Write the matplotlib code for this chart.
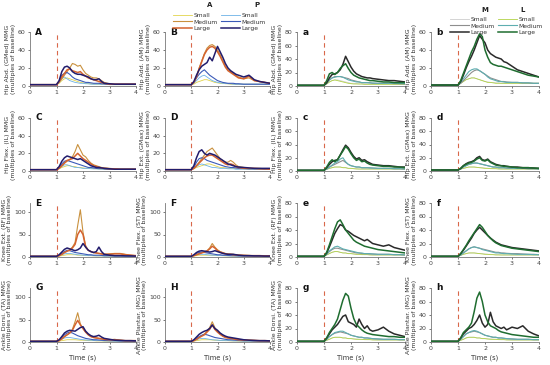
import matplotlib
matplotlib.use("Agg")
import matplotlib.pyplot as plt

# time grid (s)
T = [0, 1.0, 1.1, 1.2, 1.3, 1.4, 1.5, 1.6, 1.7, 1.8, 1.9, 2.0, 2.1, 2.2, 2.3,
     2.4, 2.5, 2.6, 2.7, 2.8, 3.0, 3.2, 3.4, 3.6, 3.8, 4.0]

sizes = ["Small", "Medium", "Large"]

# ---- Left block: A (anterior) and P (posterior) series ----
A_panelA = [
    [1.5,1.5,3,6,8,9,8,7,6,5,4,3.5,3,2.5,2.5,2,2,2,2,2,1.5,1.5,1.5,1.5,1.5,1.5],
    [1.5,1.5,4,8,12,16,20,25,24,22,23,18,14,12,10,9,9,8,6,4,2.5,2,2,2,2,2],
    [1.5,1.5,5,10,14,18,19,17,16,15,16,13,11,9,8,7,6,5,4,3,2,2,2,2,2,2]]
P_panelA = [
    [1.5,1.5,4,8,10,8,6,5,4,3.5,3,3,2.5,2.5,2,2,2,2,2,2,1.5,1.5,1.5,1.5,1.5,1.5],
    [1.5,1.5,5,12,14,15,13,10,8,7,6,5,4,4,3.5,3,3,3,2.5,2.5,2,2,2,2,2,2],
    [1.5,1.5,6,16,21,22,20,16,14,13,13,12,11,10,8,7,7,8,5,3,2.5,2,2,2,2,2]]

A_panelB = [
    [1.5,1.5,2,4,5,6,7,7,6,5,4,3.5,3,3,2.5,2.5,2,2,2,2,2,2,2,2,2,2],
    [1.5,1.5,4,10,20,28,36,42,45,46,44,40,35,28,22,18,16,14,12,10,8,9,6,5,4,3],
    [1.5,1.5,4,10,19,27,35,40,43,44,42,38,33,27,21,17,15,13,11,9,8,11,6,5,4,3]]
P_panelB = [
    [1.5,1.5,3,6,9,11,12,10,8,6,5,4,3.5,3,3,2.5,2.5,2,2,2,2,2,2,2,2,2],
    [1.5,1.5,4,9,13,16,18,15,12,10,8,6,5,4,3.5,3,3,3,2.5,2.5,2,2,2,2,2,2],
    [1.5,1.5,5,12,18,22,24,26,32,28,36,44,38,32,25,20,17,15,13,12,10,12,7,5,4,3]]

A_panelC = [
    [1.5,1.5,2.5,4,5,6,6,5,5,4,4,3.5,3,3,3,2.5,2.5,2.5,2,2,2,2,2,2,2,2],
    [1.5,1.5,3,6,9,11,13,16,22,30,24,18,16,12,9,7,6,5,4,3.5,3,2.5,2,2,2,2],
    [1.5,1.5,3,6,9,12,13,14,17,20,17,14,12,10,8,6,5,4,3.5,3,2.5,2.5,2,2,2,2]]
P_panelC = [
    [1.5,1.5,3,5,7,7,6,5,4,4,3.5,3,3,3,2.5,2.5,2.5,2,2,2,2,2,2,2,2,2],
    [1.5,1.5,4,8,11,12,11,10,9,8,7,6,5,4,4,3.5,3,3,3,2.5,2,2,2,2,2,2],
    [1.5,1.5,5,11,15,17,16,15,14,13,14,12,10,8,6,5,4,4,3.5,3,2.5,2,2,2,2,2]]

A_panelD = [
    [1.5,1.5,2.5,4,5,6,7,8,8,7,6,5,4,4,3.5,3,3,3,2.5,2.5,2.5,2,2,2,2,2],
    [1.5,1.5,3,6,10,14,18,22,24,26,22,18,14,12,10,10,12,10,7,5,4,3,3,3,2.5,2],
    [1.5,1.5,3,6,9,12,15,17,18,18,16,14,12,10,8,7,8,7,5,4,3,3,3,2.5,2.5,2]]
P_panelD = [
    [1.5,1.5,3,5,7,8,7,6,5,4,4,3.5,3,3,3,2.5,2.5,2.5,2,2,2,2,2,2,2,2],
    [1.5,1.5,4,10,14,15,14,12,11,10,9,8,7,6,5,4.5,4,4,3.5,3,3,2.5,2.5,2.5,2,2],
    [1.5,1.5,6,15,22,24,20,18,20,19,18,16,14,12,10,8,7,6,5,4.5,4,3.5,3,3,3,3]]

A_panelE = [
    [1.5,1.5,2,3,4,5,5,5,5,4,4,3.5,3,3,3,2.5,2.5,2.5,2.5,2,2,2,2,2,2,2],
    [1.5,1.5,3,6,10,13,16,22,32,70,105,55,25,15,12,10,9,8,7,6,7,8,8,6,4,3],
    [1.5,1.5,3,6,10,13,15,20,28,50,60,50,22,15,12,10,9,8,7,6,6,7,7,5,4,3]]
P_panelE = [
    [1.5,1.5,3,5,7,8,8,7,6,5,4.5,4,3.5,3,3,3,2.5,2.5,2.5,2,2,2,2,2,2,2],
    [1.5,1.5,4,8,12,15,14,12,10,9,8,7,6,5,5,4,4,4,3.5,3,3,2.5,2.5,2.5,2,2],
    [1.5,1.5,5,11,17,20,18,16,14,16,20,30,22,15,12,10,12,22,12,6,4,3,3,2.5,2.5,2]]

A_panelF = [
    [1.5,1.5,2,3,4,4,4,4,4,4,3.5,3,3,3,2.5,2.5,2.5,2,2,2,2,2,2,2,2,2],
    [1.5,1.5,3,5,8,10,12,14,20,30,22,16,12,10,8,7,6,6,5,4.5,4,3.5,3,3,2.5,2.5],
    [1.5,1.5,3,5,7,9,11,13,18,24,20,14,11,9,7,6,6,5,5,4,3.5,3,3,3,2.5,2.5]]
P_panelF = [
    [1.5,1.5,3,5,6,6,6,5,4.5,4,4,3.5,3,3,3,2.5,2.5,2.5,2,2,2,2,2,2,2,2],
    [1.5,1.5,4,8,10,11,10,9,8,7,6,5,5,4,4,3.5,3,3,3,2.5,2.5,2,2,2,2,2],
    [1.5,1.5,5,10,13,14,13,12,11,12,14,12,10,8,7,6,6,6,5,4,3,3,2.5,2.5,2,2]]

A_panelG = [
    [1.5,1.5,2,3,4,5,5,5,5,4.5,4,4,3.5,3,3,3,2.5,2.5,2.5,2,2,2,2,2,2,2],
    [1.5,1.5,3,7,12,16,20,28,45,65,40,30,22,16,12,10,9,8,7,6,5,6,4,3,3,3],
    [1.5,1.5,3,7,12,16,20,26,38,48,38,30,22,16,12,10,9,8,7,6,5,5,4,3,3,3]]
P_panelG = [
    [1.5,1.5,3,6,9,10,10,9,8,7,6,5,4.5,4,4,3.5,3,3,3,2.5,2.5,2,2,2,2,2],
    [1.5,1.5,4,10,16,20,22,20,17,14,12,10,8,7,6,5,5,4.5,4,3.5,3,3,2.5,2.5,2,2],
    [1.5,1.5,5,12,20,24,26,25,24,28,32,34,24,18,14,12,13,15,11,8,6,4,3.5,3,3,2.5]]

A_panelH = [
    [1.5,1.5,2,3,4,5,5,5,5,4.5,4,4,3.5,3,3,3,2.5,2.5,2.5,2,2,2,2,2,2,2],
    [1.5,1.5,3,6,10,14,18,24,32,45,32,24,18,14,11,9,8,7,6,5,4.5,4,3.5,3,3,2.5],
    [1.5,1.5,3,6,10,13,16,22,28,38,28,22,17,13,10,9,8,7,6,5,4.5,4,3.5,3,3,2.5]]
P_panelH = [
    [1.5,1.5,3,5,7,8,8,7,6,5,4.5,4,3.5,3.5,3,3,3,2.5,2.5,2.5,2,2,2,2,2,2],
    [1.5,1.5,4,8,12,15,17,16,14,12,10,9,8,7,6,5,5,4.5,4,3.5,3,3,2.5,2.5,2,2],
    [1.5,1.5,5,11,17,21,24,26,30,38,30,26,20,16,13,11,10,9,8,7,5,4,3.5,3,3,2.5]]

# ---- Right block: M and L series ----
M_panela = [
    [1,1,3,6,8,9,9,8,7,6,5,4,4,3.5,3,3,3,3,3,3,3,3,3,3,3,3],
    [1,1,4,9,12,14,14,14,13,12,11,9,8,7,6,5,5,5,5,4,4,4,4,3.5,3.5,3],
    [1,1,5,12,17,18,20,24,32,44,36,28,22,18,16,14,13,12,12,11,10,9,8,8,7,6]]
L_panela = [
    [1,1,3,6,8,9,8,7,6,5,4,3.5,3,3,3,3,2.5,2.5,2.5,2.5,2.5,2.5,2.5,2.5,2.5,2.5],
    [1,1,4,9,12,13,14,14,13,11,9,8,7,6,6,5,5,5,4.5,4.5,4,4,4,4,3.5,3.5],
    [1,1,8,18,20,17,20,26,30,33,26,20,16,14,12,11,10,9,8,8,7,6,6,5,5,5]]

M_panelb = [
    [1,1,3,5,7,8,9,9,8,7,6,5,4.5,4,4,3.5,3.5,3,3,3,3,3,3,3,3,3],
    [1,1,3,6,9,12,15,17,18,17,15,13,11,9,8,7,6,5,5,4.5,4,4,3.5,3.5,3,3],
    [1,1,5,12,20,27,33,40,48,56,52,48,40,36,34,32,31,30,27,26,22,18,16,14,12,10]]
L_panelb = [
    [1,1,3,5,7,8,9,9,8,7,6,5,4,4,3.5,3,3,3,3,3,3,3,3,3,3,3],
    [1,1,4,8,12,16,18,19,19,17,15,13,10,8,7,6,5,5,4.5,4,4,4,3.5,3.5,3,3],
    [1,1,6,14,22,30,38,44,52,58,55,40,32,26,24,23,22,22,21,20,18,16,14,12,11,10]]

M_panelc = [
    [1,1,2.5,4,5,6,6,6,5,5,4,4,3.5,3.5,3,3,3,3,3,3,3,3,3,3,3,3],
    [1,1,3,6,8,10,12,14,16,13,10,8,7,6,6,5,5,5,5,4.5,4,4,4,3.5,3.5,3],
    [1,1,5,10,14,16,17,24,32,39,35,28,22,18,20,16,17,14,12,10,9,8,8,7,6,6]]
L_panelc = [
    [1,1,2.5,4,5,6,6,6,5,5,4,4,3.5,3,3,3,3,3,3,3,3,3,3,3,3,3],
    [1,1,3,6,9,12,14,18,20,14,10,8,7,6,6,5,5,5,4.5,4.5,4,4,4,3.5,3.5,3],
    [1,1,6,13,17,14,17,24,30,37,33,26,20,16,18,14,15,12,10,9,8,7,7,6,6,5]]

M_paneld = [
    [1.5,1.5,3,4,5,6,6,6,5.5,5,5,4.5,4,4,3.5,3.5,3.5,3,3,3,3,3,3,3,3,3],
    [1.5,1.5,3,6,8,10,11,12,12,11,10,9,8,7,6,6,5,5,5,4.5,4,4,4,3.5,3.5,3],
    [1.5,1.5,4,8,11,13,14,16,20,22,17,16,18,14,12,10,9,8,8,7,6,6,5,5,4.5,4]]
L_paneld = [
    [1.5,1.5,3,4,5,6,6,6,5.5,5,4.5,4,4,3.5,3.5,3.5,3,3,3,3,3,3,3,3,3,3],
    [1.5,1.5,3,6,8,10,11,12,12,11,10,9,8,7,6,6,5,5,5,4.5,4,4,4,3.5,3.5,3],
    [1.5,1.5,4,8,10,12,13,15,18,20,16,15,17,13,11,9,8,8,7,7,6,5,5,5,4.5,4]]

M_panele = [
    [1,1,3,5,7,8,8,7,6,6,5,5,4.5,4,4,4,3.5,3.5,3.5,3,3,3,3,3,3,3],
    [1,1,4,8,11,13,13,12,11,10,9,8,7,6,6,5,5,5,4.5,4.5,4,4,4,3.5,3.5,3],
    [1,1,6,15,25,35,42,48,46,40,38,35,32,30,28,26,24,26,23,20,18,16,18,14,12,10]]
L_panele = [
    [1,1,3,5,7,8,8,7,6,6,5,5,4.5,4,4,3.5,3.5,3.5,3,3,3,3,3,3,3,3],
    [1,1,4,9,12,15,16,14,12,11,10,9,8,7,6,6,5,5,5,4.5,4,4,4,3.5,3.5,3],
    [1,1,7,18,30,42,52,55,48,40,35,30,25,22,20,18,16,15,14,13,11,10,9,8,7,6]]

M_panelf = [
    [1,1,2.5,4,5,6,6,6,5.5,5,5,4.5,4,4,3.5,3.5,3.5,3,3,3,3,3,3,3,3,3],
    [1,1,3,6,9,12,14,15,14,13,12,11,10,9,8,7,7,6,6,5.5,5,5,4.5,4,4,3.5],
    [1,1,5,10,16,22,28,35,40,44,40,36,32,28,25,22,20,18,17,16,14,13,12,11,10,9]]
L_panelf = [
    [1,1,2.5,4,5,6,6,6,5.5,5,4.5,4,4,3.5,3.5,3,3,3,3,3,3,3,3,3,3,3],
    [1,1,3,6,9,12,14,15,14,13,11,10,9,8,7,6,6,5.5,5,5,4.5,4,4,4,3.5,3.5],
    [1,1,5,11,17,24,30,36,42,48,44,38,32,28,24,21,19,17,16,15,13,12,11,10,9,8]]

M_panelg = [
    [1,1,2.5,4,6,7,7,7,6,6,5,5,4.5,4.5,4,4,4,3.5,3.5,3.5,3,3,3,3,3,3],
    [1,1,4,8,11,13,14,15,14,13,12,10,9,8,7,7,6,6,5.5,5,4.5,4,4,4,3.5,3.5],
    [1,1,6,12,18,22,26,32,38,40,30,28,26,22,34,26,20,24,18,16,18,22,16,12,10,8]]
L_panelg = [
    [1,1,2.5,4,6,7,7,7,6,6,5,5,4.5,4,4,4,3.5,3.5,3.5,3,3,3,3,3,3,3],
    [1,1,4,8,11,14,15,16,16,14,12,10,9,8,7,7,6,6,5.5,5,4.5,4,4,4,3.5,3.5],
    [1,1,6,14,20,26,34,48,62,72,68,50,35,26,22,18,15,13,12,11,10,9,8,8,7,7]]

M_panelh = [
    [1,1,2.5,4,6,7,7,7,6,6,5,5,4.5,4.5,4,4,4,3.5,3.5,3.5,3,3,3,3,3,3],
    [1,1,4,8,12,14,15,16,15,14,12,10,9,8,7,7,6,6,5.5,5,4.5,4,4,4,3.5,3.5],
    [1,1,6,12,16,20,22,26,32,40,28,22,26,44,30,24,22,20,22,18,22,20,24,16,12,9]]
L_panelh = [
    [1,1,2.5,4,6,7,7,7,6,6,5,5,4.5,4,4,4,3.5,3.5,3.5,3,3,3,3,3,3,3],
    [1,1,4,8,12,14,16,17,16,14,12,10,9,8,7,7,6,6,5.5,5,4.5,4,4,4,3.5,3.5],
    [1,1,6,14,18,22,28,45,65,74,60,40,30,24,22,20,17,15,14,13,11,10,9,8,7,7]]

muscles_col1 = ["Hip Abd. (GMed) MMG", "Hip Flex. (IL) MMG",
                "Knee Ext. (RF) MMG", "Ankle Dorsi. (TA) MMG"]
muscles_col2 = ["Hip Add. (AM) MMG", "Hip Ext. (GMax) MMG",
                "Knee Flex. (ST) MMG", "Ankle Plantar. (MG) MMG"]

colors_A = ["#e2d44c", "#c9913e", "#d5632f"]
colors_P = ["#6cb2e6", "#3b5ab8", "#221c6c"]
colors_M = ["#cdcdcd", "#8e8e8e", "#2a2a2a"]
colors_L = ["#b2d246", "#5eaeb0", "#1f6d30"]
widths = [0.6, 0.8, 1.1]

W, H = 550, 365
fig = plt.figure(figsize=(W / 100, H / 100), dpi=100)
plt.rcParams['font.family'] = ['DejaVu Sans']

col_x = [30, 165, 297, 431]
col_w = [106, 105, 108, 108]
row_top = [32, 118, 203, 288]
row_bot = [86, 171, 257, 342]

left_data = [
    [(A_panelA, P_panelA, "A"), (A_panelB, P_panelB, "B")],
    [(A_panelC, P_panelC, "C"), (A_panelD, P_panelD, "D")],
    [(A_panelE, P_panelE, "E"), (A_panelF, P_panelF, "F")],
    [(A_panelG, P_panelG, "G"), (A_panelH, P_panelH, "H")]]
right_data = [
    [(M_panela, L_panela, "a"), (M_panelb, L_panelb, "b")],
    [(M_panelc, L_panelc, "c"), (M_paneld, L_paneld, "d")],
    [(M_panele, L_panele, "e"), (M_panelf, L_panelf, "f")],
    [(M_panelg, L_panelg, "g"), (M_panelh, L_panelh, "h")]]

ylims_left = [60, 60, 120, 120]
yticks_left = [[0, 20, 40, 60], [0, 20, 40, 60], [0, 50, 100], [0, 50, 100]]
ylims_right = [[80, 60], [80, 80], [80, 80], [80, 80]]

axes = {}
for r in range(4):
    for c in range(4):
        x0 = col_x[c] / W
        y0 = 1 - row_bot[r] / H
        w = col_w[c] / W
        h = (row_bot[r] - row_top[r]) / H
        ax = fig.add_axes([x0, y0, w, h])
        if c < 2:
            s1, s2, lab = left_data[r][c]
            cols1, cols2 = colors_A, colors_P
            ymax = ylims_left[r]
            yt = yticks_left[r]
            ylabel = (muscles_col1 if c == 0 else muscles_col2)[r]
        else:
            s1, s2, lab = right_data[r][c - 2]
            cols1, cols2 = colors_M, colors_L
            ymax = ylims_right[r][c - 2]
            yt = list(range(0, ymax + 1, 20))
            ylabel = (muscles_col1 if c == 2 else muscles_col2)[r]
        ax.axvline(1.0, color="#d9684a", lw=0.8, ls=(0, (4, 3)), zorder=1)
        lines1, lines2 = [], []
        for i in range(3):
            l1, = ax.plot(T, s1[i], color=cols1[i], lw=widths[i], zorder=2 + i)
            l2, = ax.plot(T, s2[i], color=cols2[i], lw=widths[i], zorder=2 + i)
            lines1.append(l1)
            lines2.append(l2)
        ax.set_xlim(0, 4)
        ax.set_ylim(0, ymax)
        ax.set_xticks([0, 1, 2, 3, 4])
        ax.set_yticks(yt)
        for sp in ["top", "right"]:
            ax.spines[sp].set_visible(False)
        for sp in ["left", "bottom"]:
            ax.spines[sp].set_color("#777777")
            ax.spines[sp].set_linewidth(0.6)
        ax.tick_params(labelsize=4.5, colors="#444444", length=1.5, width=0.5, pad=1.5)
        ax.set_ylabel(ylabel + "\n(multiples of baseline)", fontsize=4.5,
                      color="#333333", labelpad=1.5, linespacing=1.1)
        ax.text(0.05, 1.0, lab, transform=ax.transAxes, fontsize=6.5,
                fontweight="bold", va="center", ha="left", color="#111111")
        if r == 3:
            ax.set_xlabel("Time (s)", fontsize=4.8, color="#333333", labelpad=2.5)
        axes[(r, c)] = (ax, lines1, lines2)

# legends
def make_legend(key, x_left, y_top, h1, h2, hx1, hx2, hy):
    ax, l1, l2 = axes[key]
    leg = fig.legend(l1 + l2, sizes + sizes, ncol=2, fontsize=4.3, frameon=False,
                     loc="upper left", bbox_to_anchor=(x_left / W, 1 - y_top / H),
                     handlelength=3.2, handletextpad=0.25, columnspacing=0.5,
                     labelspacing=0.2, borderpad=0, borderaxespad=0)
    for t in leg.get_texts():
        t.set_color("#333333")
    fig.text(hx1 / W, 1 - hy / H, h1, fontsize=5, fontweight="bold",
             ha="center", va="center", color="#222222")
    fig.text(hx2 / W, 1 - hy / H, h2, fontsize=5, fontweight="bold",
             ha="center", va="center", color="#222222")

make_legend((0, 1), 173, 13, "A", "P", 210, 257, 5)
make_legend((0, 3), 450, 17, "M", "L", 485, 523, 10)

fig.savefig("out.png", dpi=100)
